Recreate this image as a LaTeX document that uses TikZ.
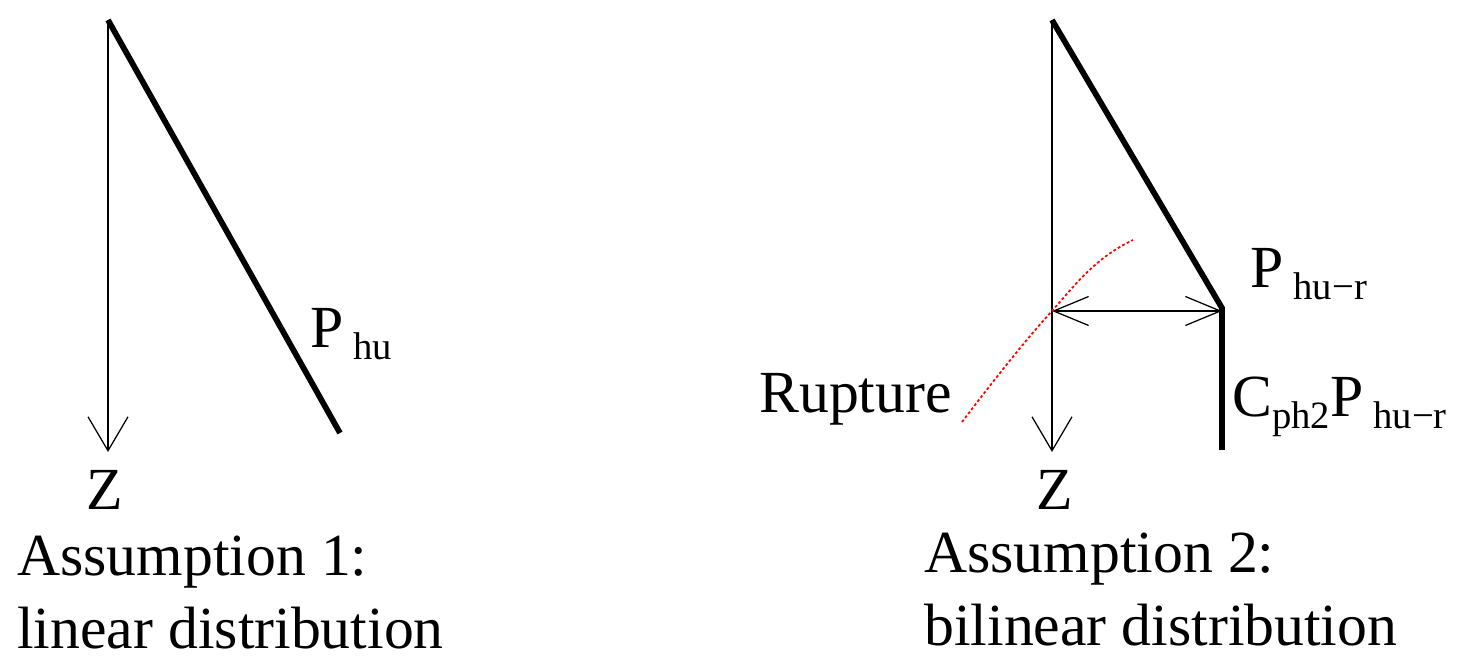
\documentclass[tikz,border=0pt]{standalone}
\usepackage{fontspec}
\setmainfont{Liberation Serif}
\usetikzlibrary{arrows.meta}

\newcommand{\lowtxt}[1]{\raisebox{-0.2em}{\fontsize{22}{26}\selectfont #1}}

\tikzset{
	lab/.style={font=\fontsize{34}{41.5}\selectfont,inner sep=0pt,anchor=base west},
	captext/.style={font=\fontsize{34}{41.5}\selectfont,inner sep=0pt,anchor=north west,align=left},
	axisline/.style={line width=0.04cm,-{Straight Barb[length=0.68cm,width=0.8cm,line width=0.025cm]}},
	spanline/.style={line width=0.04cm,{Straight Barb[length=0.7cm,width=0.58cm,line width=0.025cm]}-{Straight Barb[length=0.7cm,width=0.58cm,line width=0.025cm]}},
	loadline/.style={line width=0.115cm,line join=miter},
	crackline/.style={red,line width=0.035cm,dash pattern=on 1.6pt off 1.3pt},
}

\begin{document}
\begin{tikzpicture}[x=0.02cm,y=-0.02cm]
	\useasboundingbox (0,0) rectangle (1461,668);

	% first assumption
	\coordinate (axistopA) at (108,20);
	\coordinate (axisendA) at (108,452);
	\coordinate (loadendA) at (340,433);
	\draw[axisline] (axistopA) -- (axisendA);
	\draw[loadline] (axistopA) -- (loadendA);
	\node[lab] (phuA) at (310,348) {P\hspace{5.7pt}\lowtxt{hu}};
	\node[lab] (zedA) at (86,510) {Z};
	\node[captext] (capA) at (17,536) {Assumption 1:\\linear distribution};

	% second assumption
	\coordinate (axistopB) at (1052,20);
	\coordinate (axisendB) at (1052,452);
	\coordinate (axismidB) at (1052,311);
	\coordinate (kneeB) at (1222,308);
	\coordinate (kneearrowB) at (1222,311);
	\coordinate (loadendB) at (1222,450);
	\coordinate (crackstart) at (962,422);
	\coordinate (crackend) at (1133,240);
	\draw[axisline] (axistopB) -- (axisendB);
	\draw[loadline] (axistopB) -- (kneeB) -- (loadendB);
	\draw[spanline] (axismidB) -- (kneearrowB);
	\draw[crackline] (crackstart) .. controls (1000,372) and (1030,335) .. (axismidB)
		.. controls (1075,285) and (1095,258) .. (crackend);
	\node[lab] (phuB) at (1250,288) {P\hspace{5.7pt}\lowtxt{hu−r}};
	\node[lab] (phuC) at (1232,417) {C\lowtxt{ph2}P\hspace{5.7pt}\lowtxt{hu−r}};
	\node[lab] (rupt) at (759,413) {Rupture};
	\node[lab] (zedB) at (1036,510) {Z};
	\node[captext] (capB) at (924,533) {Assumption 2:\\bilinear distribution};
\end{tikzpicture}
\end{document}
